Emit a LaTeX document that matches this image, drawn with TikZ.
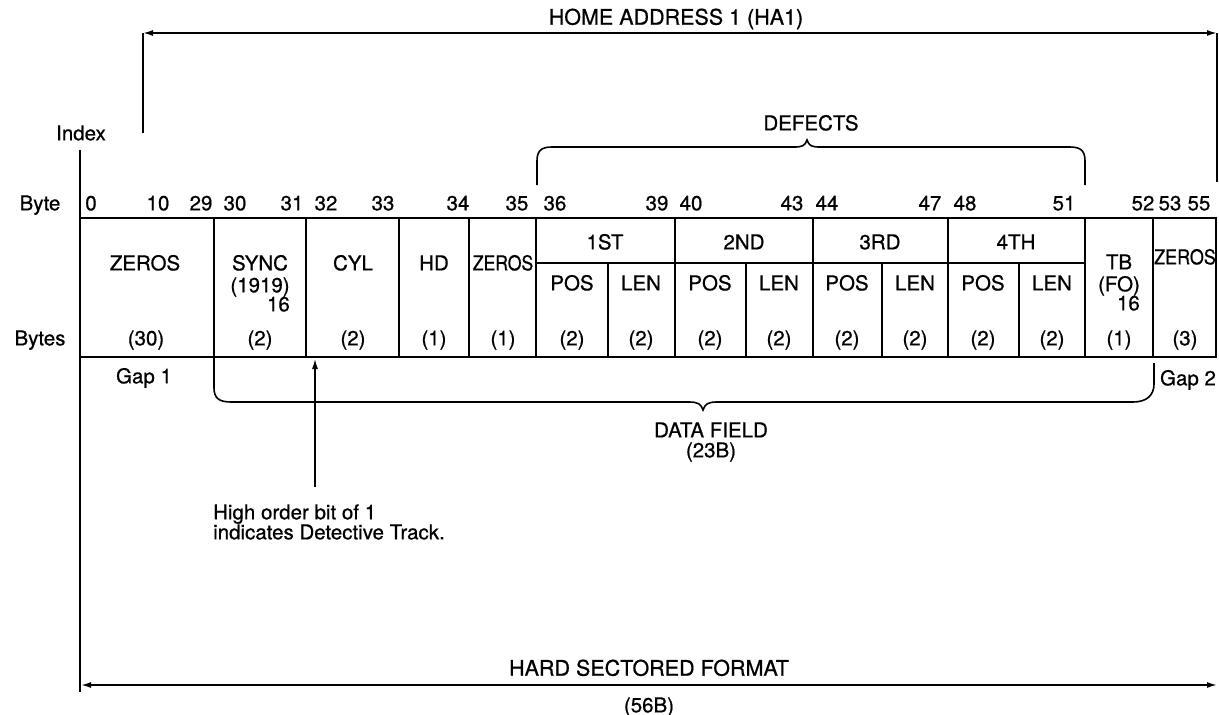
\documentclass[tikz,border=0pt]{standalone}
\usepackage{fontspec}
\setmainfont{TeX Gyre Heros}[FakeBold=0.7]
\usetikzlibrary{arrows.meta}
\tikzset{
  txt/.style={font=\fontsize{20.5}{20}\selectfont, inner sep=0pt, text height=14.7pt, text depth=0pt},
  bigtxt/.style={font=\fontsize{21.5}{22}\selectfont, inner sep=0pt, text height=15.4pt, text depth=0pt},
  narrow/.style={txt, xscale=0.86},
  thinline/.style={line width=1.3pt},
  frameline/.style={line width=2.8pt},
  braceline/.style={line width=1.6pt},
  dimarrow/.style={line width=1.6pt, {Latex[length=10pt,width=6pt]}-{Latex[length=10pt,width=6pt]}},
  pointer/.style={line width=1.3pt, -{Latex[length=10pt,width=6pt]}},
}
\begin{document}
\begin{tikzpicture}[x=1pt,y=-1pt]
\useasboundingbox (0,0) rectangle (1219,715);

% ---------- top dimension (HA1) ----------
\coordinate (haL) at (143,33);
\coordinate (haR) at (1217,33);
\coordinate (haLb) at (143,133);
\coordinate (haRb) at (1217,182);
\draw[thinline] (haL) -- (haLb);
\draw[thinline] (haR) -- (haRb);
\draw[dimarrow] (haL) -- (haR);
\node[bigtxt] (ha) at (676,17) {HOME ADDRESS 1 (HA1)};

% ---------- index ----------
\node[txt] (index) at (81,133) {Index};
\coordinate (idxT) at (80,150);
\coordinate (idxB) at (80,218);
\draw[thinline] (idxT) -- (idxB);

% ---------- defects brace ----------
\node[txt] (defects) at (811,123) {DEFECTS};
\coordinate (dL) at (537,185);
\coordinate (dR) at (1085,185);
\draw[braceline] (dL) -- (537,161) .. controls (537,151) and (541,147) .. (552,147)
  -- (794,147) .. controls (802,147) and (805,146) .. (807,140)
  .. controls (809,146) and (812,147) .. (820,147)
  -- (1070,147) .. controls (1081,147) and (1085,151) .. (1085,161) -- (dR);

% ---------- byte row ----------
\node[txt] (bytelbl) at (40,203) {Byte};
\foreach \x/\n in {91/0,158/10,201/29,235/30,292/31,326/32,383/33,458/34,517/35,555/36,
                   657/39,691/40,792/43,827/44,930/47,965/48,1064/51,1143/52,1170/53,1199/55}
  \node[txt] (b\n) at (\x,203) {\n};

% ---------- table ----------
\coordinate (tNW) at (80,218);
\coordinate (tSE) at (1216,357);
\foreach \x in {214,306,399,469,536,675,813,948,1085,1153}
  \draw[thinline] (\x,218) -- (\x,357);
\foreach \x in {608,746,882,1019}
  \draw[thinline] (\x,263) -- (\x,357);
\draw[thinline] (536,263) -- (1085,263);
\draw[frameline] (tNW) rectangle (tSE);

\node[txt] (z1) at (145,263) {ZEROS};
\node[txt] (sync) at (260,263) {SYNC};
\node[txt] (sync2) at (260,285) {(1919)};
\node[txt, anchor=east] (sync3) at (290,304) {16};
\node[txt] (cyl) at (353,263) {CYL};
\node[txt] (hd) at (434,263) {HD};
\node[narrow] (z2) at (503,263) {ZEROS};
\node[txt] (d1) at (605,242) {1ST};
\node[txt] (d2) at (744,242) {2ND};
\node[txt] (d3) at (880,242) {3RD};
\node[txt] (d4) at (1016,242) {4TH};
\foreach \x/\t [count=\i] in {572/POS,641/LEN,710/POS,779/LEN,847/POS,915/LEN,983/POS,1052/LEN}
  \node[txt] (pl\i) at (\x,283) {\t};
\node[txt] (tb) at (1119,262) {TB};
\node[txt] (tb2) at (1119,284) {(FO)};
\node[txt, anchor=east] (tb3) at (1140,303) {16};
\node[narrow, xscale=1.02] (z3) at (1185,257) {ZEROS};

\node[txt] (byteslbl) at (40,338) {Bytes};
\foreach \x/\t [count=\i] in {146/(30),260/(2),353/(2),434/(1),503/(1),572/(2),641/(2),710/(2),779/(2),
                              847/(2),915/(2),983/(2),1052/(2),1119/(1),1185/(3)}
  \node[txt] (n\i) at (\x,338) {\t};

% ---------- below the table ----------
\coordinate (idxB2) at (80,357);
\coordinate (idxE) at (80,692);
\draw[thinline] (idxB2) -- (idxE);

\node[txt] (gap1) at (144,376) {Gap 1};
\node[txt] (gap2) at (1188,378) {Gap 2};

\coordinate (dfL) at (214,358);
\coordinate (dfR) at (1154,363);
\draw[braceline] (dfL) -- (214,388) .. controls (214,398) and (219,402) .. (231,402)
  -- (689,402) .. controls (698,402) and (701,404) .. (703,410)
  .. controls (705,404) and (708,402) .. (717,402)
  -- (1133,402) .. controls (1147,402) and (1154,395) .. (1154,384) -- (dfR);
\node[txt] (df) at (711,430) {DATA FIELD};
\node[txt] (df2) at (711,450) {(23B)};

\coordinate (ptrTail) at (315,487);
\coordinate (ptrHead) at (315,359);
\draw[pointer] (ptrTail) -- (ptrHead);
\node[txt, anchor=west] (note1) at (213,512) {High order bit of 1};
\node[txt, anchor=west] (note2) at (213,532) {indicates Detective Track.};

% ---------- bottom dimension ----------
\coordinate (hsL) at (81,685);
\coordinate (hsR) at (1217,685);
\draw[dimarrow] (hsL) -- (hsR);
\node[bigtxt] (hs) at (649,668) {HARD SECTORED FORMAT};
\node[txt] (hs2) at (649,705) {(56B)};
\end{tikzpicture}
\end{document}
